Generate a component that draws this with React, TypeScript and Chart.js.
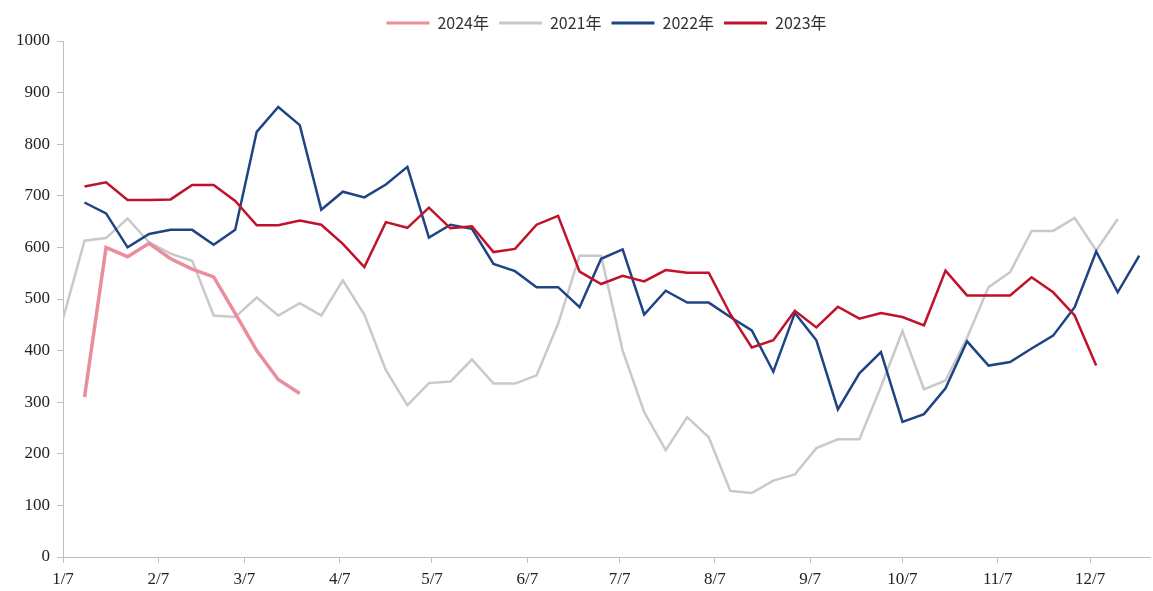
import React, { useEffect, useRef } from "react";
import { Chart, registerables } from "chart.js";

Chart.register(...registerables);

// Weekly observations: offset in days from 1/7
const weekOffsets: number[] = Array.from({ length: 51 }, (_, i) => i * 7);

// X-axis tick positions (days from 1/7) and labels
const monthTickDays: number[] = [0, 31, 59, 90, 120, 151, 181, 212, 243, 273, 304, 334];
const monthTickLabels: string[] = ["1/7", "2/7", "3/7", "4/7", "5/7", "6/7", "7/7", "8/7", "9/7", "10/7", "11/7", "12/7"];

const seriesNames: string[] = ["2024年", "2021年", "2022年", "2023年"];

const values2024: (number | null)[] = [
  null, 310, 600, 582, 608, 578, 558, 543, 472, 400, 344, 317,
];

const values2021: (number | null)[] = [
  462, 613, 618, 656, 610, 588, 574, 468, 465, 503,
  468, 492, 468, 536, 470, 362, 294, 337, 340, 383,
  336, 336, 352, 452, 584, 584, 400, 281, 207, 271,
  232, 128, 124, 148, 160, 211, 228, 228, 330, 438,
  325, 342, 425, 523, 552, 632, 632, 657, 594, 655,
];

const values2022: (number | null)[] = [
  null, 687, 666, 600, 626, 634, 634, 605, 634, 824,
  872, 837, 673, 708, 697, 722, 756, 619, 644, 636,
  568, 554, 523, 523, 484, 578, 596, 470, 516, 493,
  493, 465, 439, 359, 473, 420, 286, 356, 397, 262,
  277, 327, 418, 371, 378, 404, 429, 484, 592, 513,
  584,
];

const values2023: (number | null)[] = [
  null, 718, 726, 692, 692, 693, 721, 721, 690, 643,
  643, 652, 644, 607, 562, 649, 638, 677, 637, 641,
  591, 597, 644, 661, 553, 529, 545, 534, 556, 551,
  551, 471, 406, 420, 477, 445, 485, 462, 473, 465,
  449, 555, 507, 507, 507, 542, 513, 468, 371,
];

const yTicksMin = 0;
const yTicksMax = 1000;
const yTickStep = 100;

const colors = ["#EA8D9C", "#C9C9C9", "#1F4485", "#C0122A"];
const widths = [3.5, 2.5, 2.5, 2.5];
const drawOrder = [0, 3, 2, 1];

function toPoints(vals: (number | null)[]) {
  return weekOffsets.map((d, i) => ({ x: d, y: i < vals.length ? vals[i] : null }));
}

export default function App() {
  const canvasRef = useRef<HTMLCanvasElement | null>(null);

  useEffect(() => {
    if (!canvasRef.current) return;
    const allSeries = [values2024, values2021, values2022, values2023];
    const axisColor = "#BFBFBF";
    const tickFont = { family: "'Liberation Serif', 'Times New Roman', serif", size: 17 };

    const chart = new Chart(canvasRef.current, {
      type: "line",
      data: {
        datasets: allSeries.map((vals, k) => ({
          label: seriesNames[k],
          data: toPoints(vals) as any,
          borderColor: colors[k],
          backgroundColor: colors[k],
          borderWidth: widths[k],
          pointRadius: 0,
          pointHoverRadius: 0,
          tension: 0,
          fill: false,
          spanGaps: false,
          order: drawOrder[k],
        })),
      },
      options: {
        animation: false,
        responsive: true,
        maintainAspectRatio: false,
        layout: { padding: { top: 5, right: 3, left: 0, bottom: 0 } },
        plugins: {
          tooltip: { enabled: false },
          legend: {
            display: true,
            position: "top",
            fullSize: false,
            labels: {
              boxWidth: 43,
              boxHeight: 3,
              padding: 10,
              color: "#333333",
              font: { family: "'Noto Sans CJK SC', 'Noto Sans', sans-serif", size: 16 },
              sort: (a: any, b: any) => a.datasetIndex - b.datasetIndex,
              generateLabels: (c: any) => {
                const items = Chart.defaults.plugins.legend.labels.generateLabels(c);
                return items.map((it: any) => ({
                  ...it,
                  fillStyle: it.strokeStyle,
                  lineWidth: 0,
                }));
              },
            },
          },
        },
        scales: {
          x: {
            type: "linear",
            min: 0,
            max: 353.5,
            afterFit: (scale: any) => {
              scale.height = 34;
            },
            afterBuildTicks: (scale: any) => {
              scale.ticks = monthTickDays.map((v) => ({ value: v }));
            },
            ticks: {
              autoSkip: false,
              maxRotation: 0,
              minRotation: 0,
              padding: 6,
              color: "#222222",
              font: tickFont,
              callback: (_v: any, idx: number) => monthTickLabels[idx],
            },
            grid: {
              display: true,
              drawOnChartArea: false,
              drawTicks: true,
              tickLength: 6,
              color: axisColor,
              lineWidth: 1,
            },
            border: { display: true, color: axisColor, width: 1 },
          },
          y: {
            min: yTicksMin,
            max: yTicksMax,
            afterFit: (scale: any) => {
              scale.width = 63;
            },
            ticks: {
              stepSize: yTickStep,
              padding: 7,
              color: "#222222",
              font: tickFont,
              callback: (v: any) => String(v),
            },
            grid: {
              display: true,
              drawOnChartArea: false,
              drawTicks: true,
              tickLength: 6,
              color: axisColor,
              lineWidth: 1,
            },
            border: { display: true, color: axisColor, width: 1 },
          },
        },
      } as any,
    });

    return () => {
      chart.destroy();
    };
  }, []);

  return (
    <div
      style={{
        position: "fixed",
        left: 0,
        top: 0,
        width: 1153,
        height: 591,
        background: "#ffffff",
      }}
    >
      <canvas ref={canvasRef} />
    </div>
  );
}
